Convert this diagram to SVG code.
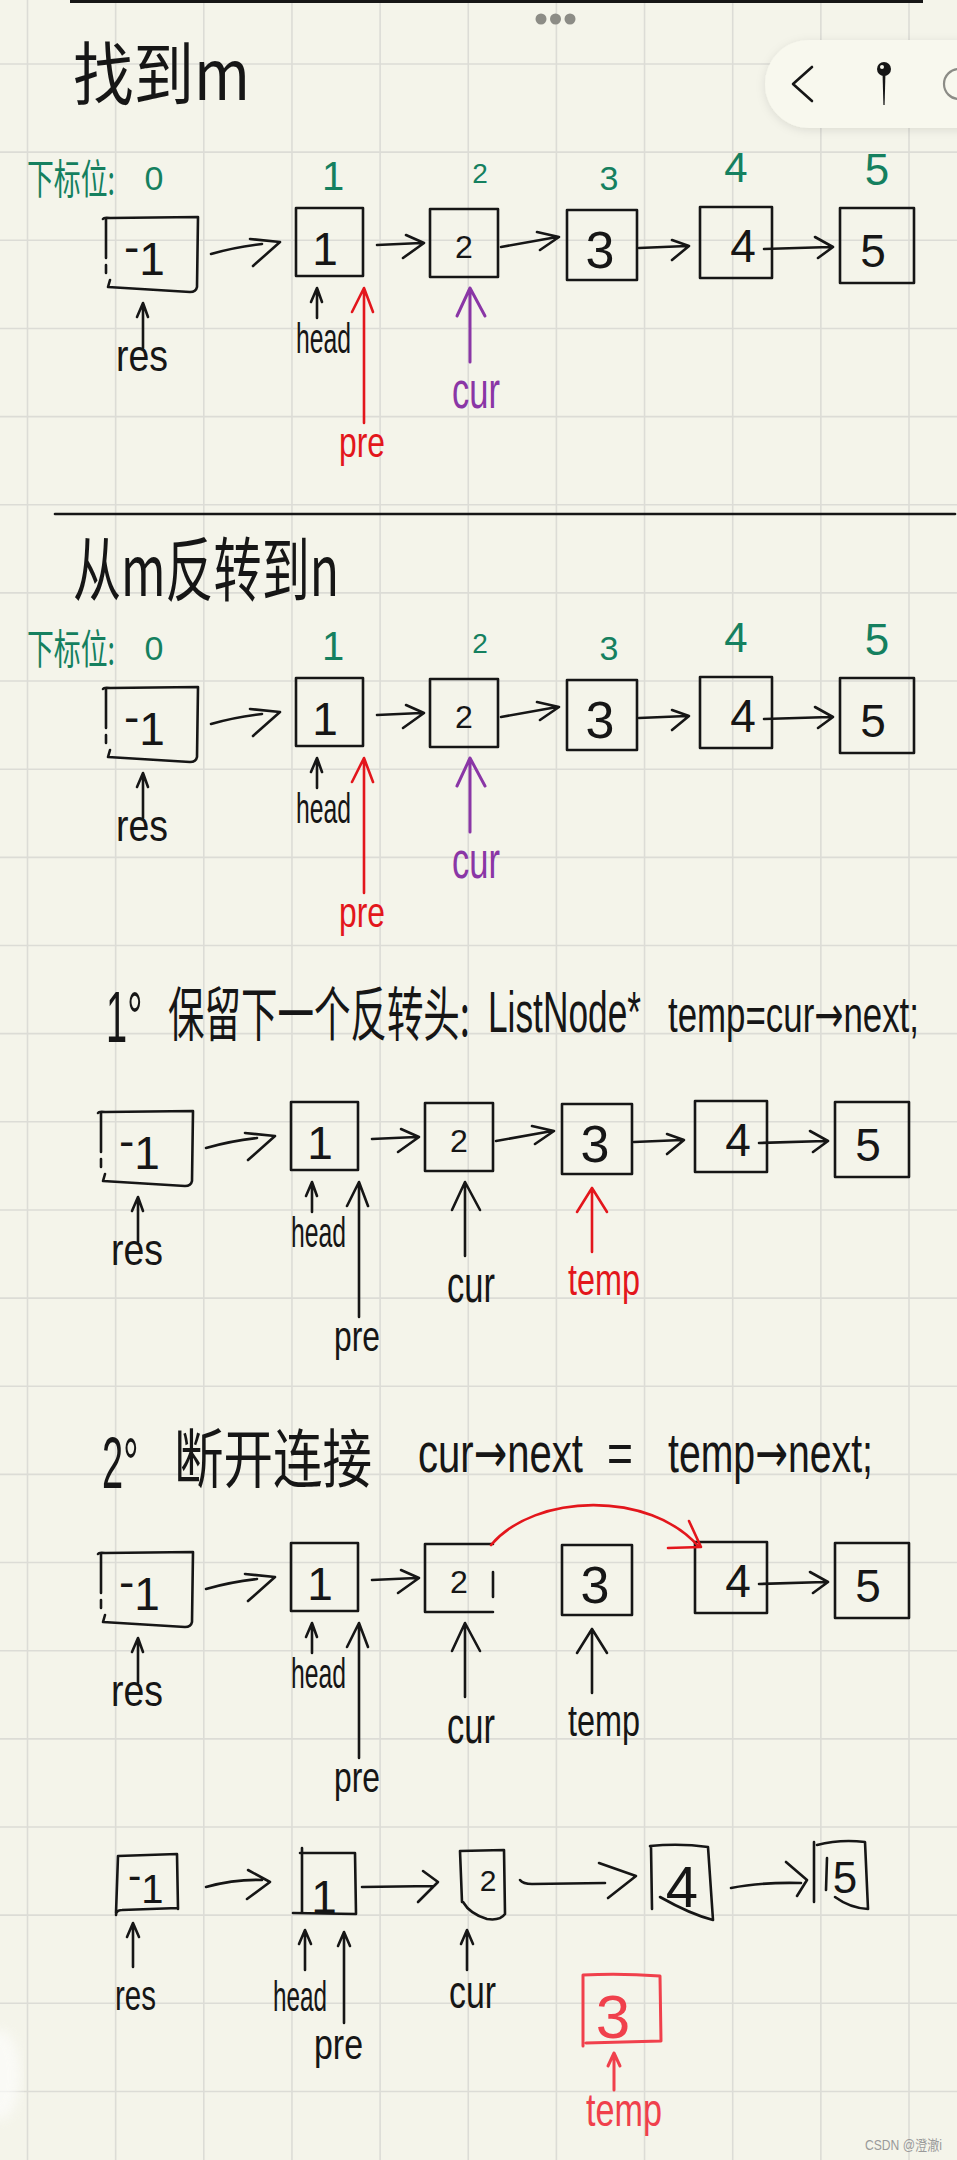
<svg xmlns="http://www.w3.org/2000/svg" width="957" height="2160" viewBox="0 0 957 2160">
<defs>
<style>
.bk{stroke:#161616;fill:none;stroke-width:2.6;stroke-linecap:round;stroke-linejoin:round}
.rd{stroke:#e3161c;fill:none;stroke-width:2.6;stroke-linecap:round;stroke-linejoin:round}
.pu{stroke:#8a36a6;fill:none;stroke-width:3;stroke-linecap:round;stroke-linejoin:round}
.pk{stroke:#f0404c;fill:none;stroke-width:3;stroke-linecap:round;stroke-linejoin:round}
.num{font-family:"Liberation Sans",Arial,sans-serif;fill:#161616;text-anchor:middle}
.lbl{font-family:"Liberation Sans Narrow","Liberation Sans",Arial,sans-serif;fill:#161616}
.cjk{font-family:"Noto Sans CJK SC",sans-serif;fill:#161616}
.gtx{fill:#15805f}
.arw{font-family:"DejaVu Sans",sans-serif}
.grid{stroke:#dcdcd6;stroke-width:1.6;fill:none}
</style>
<filter id="sh" x="-20%" y="-30%" width="140%" height="160%"><feDropShadow dx="0" dy="2" stdDeviation="5" flood-color="#000" flood-opacity="0.10"/></filter>
<filter id="bl"><feGaussianBlur stdDeviation="6"/></filter>
</defs>
<rect x="0" y="0" width="957" height="2160" fill="#f4f4ea"/>
<path class="grid" d="M27.5,0V2160M115.65,0V2160M203.8,0V2160M291.95,0V2160M380.1,0V2160M468.25,0V2160M556.4,0V2160M644.55,0V2160M732.7,0V2160M820.85,0V2160M909,0V2160M0,64H957M0,152.15H957M0,240.3H957M0,328.45H957M0,416.6H957M0,504.75H957M0,592.9H957M0,681.05H957M0,769.2H957M0,857.35H957M0,945.5H957M0,1033.65H957M0,1121.8H957M0,1209.95H957M0,1298.1H957M0,1386.25H957M0,1474.4H957M0,1562.55H957M0,1650.7H957M0,1738.85H957M0,1827H957M0,1915.15H957M0,2003.3H957M0,2091.45H957"/>
<ellipse cx="0" cy="2075" rx="20" ry="45" fill="#ffffff" opacity="0.6" filter="url(#bl)"/>
<g id="ui">
<rect x="70" y="-2" width="853" height="5" fill="#161616"/>
<circle cx="541" cy="19" r="5.5" fill="#8c8c86"/><circle cx="555.5" cy="19" r="5.5" fill="#8c8c86"/><circle cx="570" cy="19" r="5.5" fill="#8c8c86"/>
<rect x="765" y="40" width="240" height="88" rx="44" fill="#f8f8ee" filter="url(#sh)"/>
<path d="M812,67 L793,84 L812,101" fill="none" stroke="#161616" stroke-width="2.6" stroke-linecap="round" stroke-linejoin="round"/>
<circle cx="884" cy="69" r="7" fill="#161616"/><circle cx="882" cy="67" r="2" fill="#f8f8ee"/>
<path d="M882.5,72 L885.5,72 L884.6,105 L883.4,105 Z" fill="#161616"/>
<circle cx="959" cy="84" r="15" fill="none" stroke="#8c8c86" stroke-width="2.2"/>
</g>
<g id="titles">
<text class="cjk" transform="translate(73,100) scale(1,1.12)" font-size="62" textLength="177" lengthAdjust="spacingAndGlyphs">找到m</text>
<path class="bk" d="M55,514 L955,514"/>
<text class="cjk" transform="translate(73,596) scale(1,1.3)" font-size="54" textLength="266" lengthAdjust="spacingAndGlyphs">从m反转到n</text>
<text class="lbl" transform="translate(106,1042) scale(1,1.9)" font-size="38">1°</text>
<text class="cjk" transform="translate(168,1036) scale(1,1.6)" font-size="37" textLength="302" lengthAdjust="spacingAndGlyphs">保留下一个反转头:</text>
<text class="lbl" transform="translate(488,1032) scale(1,1.6)" font-size="36" textLength="153" lengthAdjust="spacingAndGlyphs">ListNode*</text>
<text class="lbl" transform="translate(668,1032) scale(1,1.45)" font-size="35" textLength="251" lengthAdjust="spacingAndGlyphs">temp=cur<tspan class="arw">→</tspan>next;</text>
<text class="lbl" transform="translate(102,1488) scale(1,1.9)" font-size="38">2°</text>
<text class="cjk" transform="translate(174,1482) scale(1,1.3)" font-size="49" textLength="198" lengthAdjust="spacingAndGlyphs">断开连接</text>
<text class="lbl" transform="translate(418,1472) scale(1,1.5)" font-size="37" textLength="165" lengthAdjust="spacingAndGlyphs">cur<tspan class="arw">→</tspan>next</text>
<text class="lbl" transform="translate(607,1472) scale(1,1.5)" font-size="37" textLength="26" lengthAdjust="spacingAndGlyphs">=</text>
<text class="lbl" transform="translate(668,1472) scale(1,1.5)" font-size="37" textLength="205" lengthAdjust="spacingAndGlyphs">temp<tspan class="arw">→</tspan>next;</text>
</g>
<g id="index1">
<text class="cjk gtx" transform="translate(27,194) scale(1,1.5)" font-size="27" textLength="88" lengthAdjust="spacingAndGlyphs">下标位:</text>
<text class="num gtx" x="154" y="190" font-size="34">0</text>
<text class="num gtx" x="333" y="190" font-size="40">1</text>
<text class="num gtx" x="480" y="183" font-size="28">2</text>
<text class="num gtx" x="609" y="190" font-size="34">3</text>
<text class="num gtx" x="736" y="182" font-size="42">4</text>
<text class="num gtx" x="877" y="185" font-size="44">5</text>
</g>
<g id="index2" transform="translate(0,470)">
<text class="cjk gtx" transform="translate(27,194) scale(1,1.5)" font-size="27" textLength="88" lengthAdjust="spacingAndGlyphs">下标位:</text>
<text class="num gtx" x="154" y="190" font-size="34">0</text>
<text class="num gtx" x="333" y="190" font-size="40">1</text>
<text class="num gtx" x="480" y="183" font-size="28">2</text>
<text class="num gtx" x="609" y="190" font-size="34">3</text>
<text class="num gtx" x="736" y="182" font-size="42">4</text>
<text class="num gtx" x="877" y="185" font-size="44">5</text>
</g>

<g id="row1">
<g id="r1-n0"><path class="bk" d="M103,219 Q104,217 110,218 L198,217 L197,287 Q196,292 190,292 L108,287 L110,280 M106,219 L106,258 M106,265 L106,273"/><text class="num" x="124" y="275" font-size="46" style="text-anchor:start"><tspan dy="-12">-</tspan><tspan dy="12">1</tspan></text></g>
<g id="r1-n1"><rect class="bk" x="296" y="208" width="67" height="68"/><text class="num" x="325" y="265" font-size="46">1</text></g>
<g id="r1-n2"><rect class="bk" x="430" y="209" width="68" height="68"/><text class="num" x="464" y="258" font-size="32">2</text></g>
<g id="r1-n3"><rect class="bk" x="567" y="210" width="70" height="70"/><text class="num" x="600" y="268" font-size="52">3</text></g>
<g id="r1-n4"><rect class="bk" x="700" y="207" width="72" height="71"/><text class="num" x="743" y="262" font-size="46">4</text></g>
<g id="r1-n5"><rect class="bk" x="840" y="208" width="74" height="75"/><text class="num" x="873" y="267" font-size="46">5</text></g>
<g id="r1-connectors">
<path class="bk" d="M211,254 Q235,247 262,244 M250,239 L280,242 L253,266"/>
<path class="bk" d="M377,245 L421,243 M406,235 L424,243 L403,258"/>
<path class="bk" d="M501,247 L557,237 M537,232 L559,237 L540,250"/>
<path class="bk" d="M639,248 L687,246 M672,240 L689,246 L672,260"/>
<path class="bk" d="M764,249 L830,247 M815,237 L833,247 L818,258"/>
<path class="bk" d="M143,348 L143,303 M137,317 L143,303 L148,317"/>
<path class="bk" d="M317,318 L317,288 M311,302 L317,288 L322,302"/>
<path class="rd" d="M364,423 L364,288 M352,312 L364,288 L373,312"/>
<path class="pu" d="M470,362 L470,288 M457,316 L470,288 L485,316"/>
</g>
<g id="r1-labels">
<text class="lbl" x="116" y="371" font-size="44" textLength="52" lengthAdjust="spacingAndGlyphs">res</text>
<text class="lbl" x="296" y="353" font-size="42" textLength="55" lengthAdjust="spacingAndGlyphs">head</text>
<text class="lbl" x="339" y="457" font-size="42" textLength="46" lengthAdjust="spacingAndGlyphs" style="fill:#e3161c">pre</text>
<text class="lbl" x="452" y="408" font-size="52" textLength="48" lengthAdjust="spacingAndGlyphs" style="fill:#8a36a6">cur</text>
</g>
</g>

<g id="row2" transform="translate(0,470)">
<g id="r2-n0"><path class="bk" d="M103,219 Q104,217 110,218 L198,217 L197,287 Q196,292 190,292 L108,287 L110,280 M106,219 L106,258 M106,265 L106,273"/><text class="num" x="124" y="275" font-size="46" style="text-anchor:start"><tspan dy="-12">-</tspan><tspan dy="12">1</tspan></text></g>
<g id="r2-n1"><rect class="bk" x="296" y="208" width="67" height="68"/><text class="num" x="325" y="265" font-size="46">1</text></g>
<g id="r2-n2"><rect class="bk" x="430" y="209" width="68" height="68"/><text class="num" x="464" y="258" font-size="32">2</text></g>
<g id="r2-n3"><rect class="bk" x="567" y="210" width="70" height="70"/><text class="num" x="600" y="268" font-size="52">3</text></g>
<g id="r2-n4"><rect class="bk" x="700" y="207" width="72" height="71"/><text class="num" x="743" y="262" font-size="46">4</text></g>
<g id="r2-n5"><rect class="bk" x="840" y="208" width="74" height="75"/><text class="num" x="873" y="267" font-size="46">5</text></g>
<g id="r2-connectors">
<path class="bk" d="M211,254 Q235,247 262,244 M250,239 L280,242 L253,266"/>
<path class="bk" d="M377,245 L421,243 M406,235 L424,243 L403,258"/>
<path class="bk" d="M501,247 L557,237 M537,232 L559,237 L540,250"/>
<path class="bk" d="M639,248 L687,246 M672,240 L689,246 L672,260"/>
<path class="bk" d="M764,249 L830,247 M815,237 L833,247 L818,258"/>
<path class="bk" d="M143,348 L143,303 M137,317 L143,303 L148,317"/>
<path class="bk" d="M317,318 L317,288 M311,302 L317,288 L322,302"/>
<path class="rd" d="M364,423 L364,288 M352,312 L364,288 L373,312"/>
<path class="pu" d="M470,362 L470,288 M457,316 L470,288 L485,316"/>
</g>
<g id="r2-labels">
<text class="lbl" x="116" y="371" font-size="44" textLength="52" lengthAdjust="spacingAndGlyphs">res</text>
<text class="lbl" x="296" y="353" font-size="42" textLength="55" lengthAdjust="spacingAndGlyphs">head</text>
<text class="lbl" x="339" y="457" font-size="42" textLength="46" lengthAdjust="spacingAndGlyphs" style="fill:#e3161c">pre</text>
<text class="lbl" x="452" y="408" font-size="52" textLength="48" lengthAdjust="spacingAndGlyphs" style="fill:#8a36a6">cur</text>
</g>
</g>

<g id="row3" transform="translate(-5,894)">
<g id="r3-n0"><path class="bk" d="M103,219 Q104,217 110,218 L198,217 L197,287 Q196,292 190,292 L108,287 L110,280 M106,219 L106,258 M106,265 L106,273"/><text class="num" x="124" y="275" font-size="46" style="text-anchor:start"><tspan dy="-12">-</tspan><tspan dy="12">1</tspan></text></g>
<g id="r3-n1"><rect class="bk" x="296" y="208" width="67" height="68"/><text class="num" x="325" y="265" font-size="46">1</text></g>
<g id="r3-n2"><rect class="bk" x="430" y="209" width="68" height="68"/><text class="num" x="464" y="258" font-size="32">2</text></g>
<g id="r3-n3"><rect class="bk" x="567" y="210" width="70" height="70"/><text class="num" x="600" y="268" font-size="52">3</text></g>
<g id="r3-n4"><rect class="bk" x="700" y="207" width="72" height="71"/><text class="num" x="743" y="262" font-size="46">4</text></g>
<g id="r3-n5"><rect class="bk" x="840" y="208" width="74" height="75"/><text class="num" x="873" y="267" font-size="46">5</text></g>
<g id="r3-connectors">
<path class="bk" d="M211,254 Q235,247 262,244 M250,239 L280,242 L253,266"/>
<path class="bk" d="M377,245 L421,243 M406,235 L424,243 L403,258"/>
<path class="bk" d="M501,247 L557,237 M537,232 L559,237 L540,250"/>
<path class="bk" d="M639,248 L687,246 M672,240 L689,246 L672,260"/>
<path class="bk" d="M764,249 L830,247 M815,237 L833,247 L818,258"/>
<path class="bk" d="M143,348 L143,303 M137,317 L143,303 L148,317"/>
<path class="bk" d="M317,318 L317,288 M311,302 L317,288 L322,302"/>
<path class="bk" d="M364,423 L364,288 M352,312 L364,288 L373,312"/>
<path class="bk" d="M470,362 L470,288 M457,316 L470,288 L485,316"/>
<path class="rd" d="M597,358 L597,294 M582,318 L597,294 L612,318"/>
</g>
<g id="r3-labels">
<text class="lbl" x="116" y="371" font-size="44" textLength="52" lengthAdjust="spacingAndGlyphs">res</text>
<text class="lbl" x="296" y="353" font-size="42" textLength="55" lengthAdjust="spacingAndGlyphs">head</text>
<text class="lbl" x="339" y="457" font-size="42" textLength="46" lengthAdjust="spacingAndGlyphs">pre</text>
<text class="lbl" x="452" y="408" font-size="52" textLength="48" lengthAdjust="spacingAndGlyphs">cur</text>
<text class="lbl" x="573" y="401" font-size="44" textLength="72" lengthAdjust="spacingAndGlyphs" style="fill:#e3161c">temp</text>
</g>
</g>

<g id="row4" transform="translate(-5,1335)">
<g id="r4-n0"><path class="bk" d="M103,219 Q104,217 110,218 L198,217 L197,287 Q196,292 190,292 L108,287 L110,280 M106,219 L106,258 M106,265 L106,273"/><text class="num" x="124" y="275" font-size="46" style="text-anchor:start"><tspan dy="-12">-</tspan><tspan dy="12">1</tspan></text></g>
<g id="r4-n1"><rect class="bk" x="296" y="208" width="67" height="68"/><text class="num" x="325" y="265" font-size="46">1</text></g>
<g id="r4-n2"><path class="bk" d="M498,209 L430,209 L430,277 L498,277 M498,237 L498,262"/><text class="num" x="464" y="258" font-size="32">2</text></g>
<g id="r4-n3"><rect class="bk" x="567" y="210" width="70" height="70"/><text class="num" x="600" y="268" font-size="52">3</text></g>
<g id="r4-n4"><rect class="bk" x="700" y="207" width="72" height="71"/><text class="num" x="743" y="262" font-size="46">4</text></g>
<g id="r4-n5"><rect class="bk" x="840" y="208" width="74" height="75"/><text class="num" x="873" y="267" font-size="46">5</text></g>
<g id="r4-connectors">
<path class="bk" d="M211,254 Q235,247 262,244 M250,239 L280,242 L253,266"/>
<path class="bk" d="M377,245 L421,243 M406,235 L424,243 L403,258"/>
<path class="rd" d="M496,210 C540,158 655,155 704,212 M673,213 L706,212 L694,186"/>
<path class="bk" d="M764,249 L830,247 M815,237 L833,247 L818,258"/>
<path class="bk" d="M143,348 L143,303 M137,317 L143,303 L148,317"/>
<path class="bk" d="M317,318 L317,288 M311,302 L317,288 L322,302"/>
<path class="bk" d="M364,423 L364,288 M352,312 L364,288 L373,312"/>
<path class="bk" d="M470,362 L470,288 M457,316 L470,288 L485,316"/>
<path class="bk" d="M597,358 L597,294 M582,318 L597,294 L612,318"/>
</g>
<g id="r4-labels">
<text class="lbl" x="116" y="371" font-size="44" textLength="52" lengthAdjust="spacingAndGlyphs">res</text>
<text class="lbl" x="296" y="353" font-size="42" textLength="55" lengthAdjust="spacingAndGlyphs">head</text>
<text class="lbl" x="339" y="457" font-size="42" textLength="46" lengthAdjust="spacingAndGlyphs">pre</text>
<text class="lbl" x="452" y="408" font-size="52" textLength="48" lengthAdjust="spacingAndGlyphs">cur</text>
<text class="lbl" x="573" y="401" font-size="44" textLength="72" lengthAdjust="spacingAndGlyphs">temp</text>
</g>
</g>

<g id="row5">
<g id="r5-n0"><path class="bk" d="M118,1856 L177,1854 L178,1909 M116,1915 Q116,1910 122,1910 L178,1908 M118,1856 L116,1913"/><text class="num" x="128" y="1903" font-size="40" style="text-anchor:start"><tspan dy="-14">-</tspan><tspan dy="14">1</tspan></text></g>
<g id="r5-n1"><path class="bk" d="M300,1853 L355,1853 L356,1914 L293,1913 M302,1848 L302,1913"/><text class="num" x="324" y="1913" font-size="46">1</text></g>
<g id="r5-n2"><path class="bk" d="M460,1851 L504,1850 L505,1914 Q500,1921 487,1919 Q470,1914 463,1902 M460,1851 L462,1902"/><text class="num" x="488" y="1891" font-size="30">2</text></g>
<g id="r5-n4"><path class="bk" d="M650,1846 Q680,1843 708,1847 L713,1920 Q690,1914 660,1897 M651,1846 L652,1909"/><text class="num" x="682" y="1907" font-size="58">4</text></g>
<g id="r5-n5"><path class="bk" d="M814,1842 L814,1902 M817,1845 Q840,1839 865,1842 L868,1909 Q850,1908 835,1897 M827,1858 L826,1890"/><text class="num" x="845" y="1893" font-size="44">5</text></g>
<g id="r5-n3"><path class="pk" d="M583,1975 Q620,1973 660,1976 L661,2041 L586,2043 M583,1975 L583,2046"/><text class="num" x="613" y="2038" font-size="62" style="fill:#f0404c">3</text></g>
<g id="r5-connectors">
<path class="bk" d="M206,1887 Q235,1879 262,1880 M248,1870 L270,1882 L247,1899"/>
<path class="bk" d="M362,1887 L434,1886 M423,1871 L438,1882 L418,1902"/>
<path class="bk" d="M520,1880 Q523,1884 532,1884 L605,1883 M599,1863 L636,1876 L608,1898"/>
<path class="bk" d="M731,1888 Q760,1882 801,1883 M786,1862 L807,1880 L797,1896"/>
<path class="bk" d="M133,1967 L133,1923 M127,1937 L133,1923 L139,1937"/>
<path class="bk" d="M305,1970 L305,1930 M299,1944 L305,1930 L311,1944"/>
<path class="bk" d="M344,2023 L344,1932 M338,1946 L344,1932 L350,1946"/>
<path class="bk" d="M467,1970 L467,1930 M461,1944 L467,1930 L473,1944"/>
<path class="pk" d="M614,2090 L614,2053 M608,2066 L614,2053 L620,2066"/>
</g>
<g id="r5-labels">
<text class="lbl" x="115" y="2010" font-size="42" textLength="41" lengthAdjust="spacingAndGlyphs">res</text>
<text class="lbl" x="273" y="2011" font-size="42" textLength="54" lengthAdjust="spacingAndGlyphs">head</text>
<text class="lbl" x="314" y="2059" font-size="42" textLength="49" lengthAdjust="spacingAndGlyphs">pre</text>
<text class="lbl" x="449" y="2008" font-size="46" textLength="47" lengthAdjust="spacingAndGlyphs">cur</text>
<text class="lbl" x="586" y="2126" font-size="46" textLength="76" lengthAdjust="spacingAndGlyphs" style="fill:#f0404c">temp</text>
</g>
</g>
<text x="865" y="2150" font-family="Liberation Sans, Noto Sans CJK SC, sans-serif" font-size="14" fill="#9a9a9a" textLength="77" lengthAdjust="spacingAndGlyphs">CSDN @澄澈i</text>
</svg>
